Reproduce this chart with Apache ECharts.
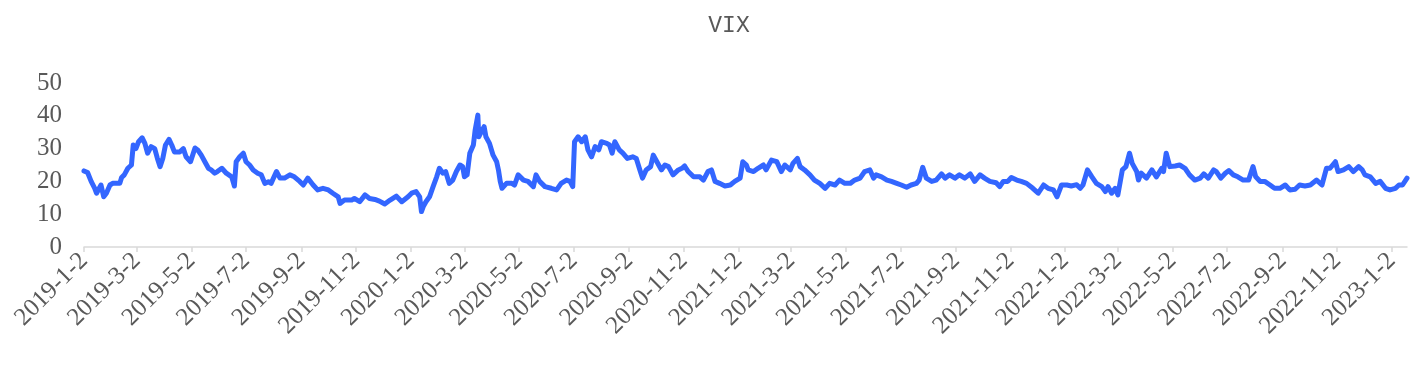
<!DOCTYPE html>
<html>
<head>
<meta charset="utf-8">
<script src="https://cdn.jsdelivr.net/npm/echarts@6/dist/echarts.min.js"></script>
<style>
html,body{margin:0;padding:0;background:#fff;}
#chart{width:1422px;height:378px;}
</style>
</head>
<body>
<div id="chart"></div>
<script>
const titleText = 'VIX';

const dates = [
'2019-01-02','2019-01-06','2019-01-10','2019-01-14','2019-01-16','2019-01-19','2019-01-21','2019-01-24','2019-01-27','2019-01-31',
'2019-02-03','2019-02-11','2019-02-13','2019-02-16','2019-02-20','2019-02-24','2019-02-26','2019-03-01','2019-03-04','2019-03-08',
'2019-03-11','2019-03-14','2019-03-18','2019-03-22','2019-03-25','2019-03-28','2019-03-31','2019-04-03','2019-04-07','2019-04-10',
'2019-04-13','2019-04-19','2019-04-23','2019-04-26','2019-05-01','2019-05-06','2019-05-09','2019-05-13','2019-05-17','2019-05-21',
'2019-05-24','2019-05-28','2019-05-31','2019-06-05','2019-06-10','2019-06-16','2019-06-19','2019-06-21','2019-06-25','2019-06-29',
'2019-07-02','2019-07-06','2019-07-10','2019-07-15','2019-07-19','2019-07-23','2019-07-27','2019-07-30','2019-08-05','2019-08-09',
'2019-08-14','2019-08-20','2019-08-25','2019-08-31','2019-09-04','2019-09-09','2019-09-15','2019-09-20','2019-09-26','2019-10-02',
'2019-10-07','2019-10-13','2019-10-15','2019-10-20','2019-10-28','2019-10-31','2019-11-06','2019-11-12','2019-11-17','2019-11-23',
'2019-11-28','2019-12-04','2019-12-10','2019-12-17','2019-12-23','2019-12-30','2020-01-03','2020-01-08','2020-01-12','2020-01-14',
'2020-01-16','2020-01-19','2020-01-23','2020-01-27','2020-01-31','2020-02-03','2020-02-07','2020-02-10','2020-02-14','2020-02-18',
'2020-02-22','2020-02-26','2020-02-29','2020-03-02','2020-03-05','2020-03-08','2020-03-12','2020-03-14','2020-03-17','2020-03-18',
'2020-03-21','2020-03-24','2020-03-26','2020-03-30','2020-04-03','2020-04-07','2020-04-09','2020-04-11','2020-04-13','2020-04-18',
'2020-04-24','2020-04-27','2020-05-01','2020-05-07','2020-05-12','2020-05-18','2020-05-21','2020-05-25','2020-05-31','2020-06-07',
'2020-06-13','2020-06-18','2020-06-24','2020-06-28','2020-07-01','2020-07-03','2020-07-07','2020-07-11','2020-07-15','2020-07-18',
'2020-07-22','2020-07-26','2020-07-30','2020-08-02','2020-08-08','2020-08-11','2020-08-14','2020-08-17','2020-08-22','2020-08-26',
'2020-08-31','2020-09-06','2020-09-10','2020-09-14','2020-09-17','2020-09-21','2020-09-26','2020-09-29','2020-10-03','2020-10-08',
'2020-10-12','2020-10-16','2020-10-21','2020-10-27','2020-10-31','2020-11-03','2020-11-07','2020-11-13','2020-11-20','2020-11-24',
'2020-11-29','2020-12-03','2020-12-07','2020-12-12','2020-12-18','2020-12-24','2020-12-29','2021-01-04','2021-01-07','2021-01-11',
'2021-01-13','2021-01-19','2021-01-24','2021-01-30','2021-02-02','2021-02-08','2021-02-14','2021-02-19','2021-02-23','2021-03-01',
'2021-03-04','2021-03-09','2021-03-12','2021-03-17','2021-03-23','2021-03-28','2021-04-03','2021-04-09','2021-04-14','2021-04-20',
'2021-04-25','2021-05-01','2021-05-07','2021-05-12','2021-05-18','2021-05-23','2021-05-29','2021-06-02','2021-06-05','2021-06-11',
'2021-06-17','2021-06-22','2021-06-28','2021-07-03','2021-07-09','2021-07-14','2021-07-20','2021-07-23','2021-07-27','2021-07-31',
'2021-08-06','2021-08-11','2021-08-17','2021-08-21','2021-08-26','2021-09-01','2021-09-06','2021-09-12','2021-09-18','2021-09-23',
'2021-09-29','2021-10-04','2021-10-10','2021-10-17','2021-10-21','2021-10-25','2021-10-30','2021-11-03','2021-11-09','2021-11-14',
'2021-11-20','2021-11-27','2021-12-03','2021-12-09','2021-12-14','2021-12-20','2021-12-24','2021-12-29','2022-01-04','2022-01-09',
'2022-01-15','2022-01-19','2022-01-22','2022-01-27','2022-02-01','2022-02-06','2022-02-12','2022-02-16','2022-02-19','2022-02-23',
'2022-02-27','2022-03-02','2022-03-07','2022-03-11','2022-03-15','2022-03-18','2022-03-23','2022-03-25','2022-03-28','2022-04-03',
'2022-04-09','2022-04-14','2022-04-20','2022-04-22','2022-04-25','2022-04-29','2022-05-05','2022-05-10','2022-05-16','2022-05-21',
'2022-05-27','2022-06-02','2022-06-06','2022-06-11','2022-06-17','2022-06-20','2022-06-25','2022-06-30','2022-07-04','2022-07-09',
'2022-07-14','2022-07-20','2022-07-26','2022-07-31','2022-08-03','2022-08-08','2022-08-13','2022-08-19','2022-08-24','2022-08-30',
'2022-09-05','2022-09-10','2022-09-16','2022-09-21','2022-09-27','2022-10-03','2022-10-10','2022-10-16','2022-10-21','2022-10-25',
'2022-10-31','2022-11-03','2022-11-09','2022-11-15','2022-11-20','2022-11-26','2022-11-30','2022-12-03','2022-12-09','2022-12-15',
'2022-12-20','2022-12-26','2022-12-31','2023-01-06','2023-01-10','2023-01-14','2023-01-19'
];

const vixValues = [
23.2,22.7,20.0,17.9,16.4,17.9,18.9,15.3,16.4,18.9,
19.4,19.4,21.2,22.0,24.0,25.0,31.1,30.0,32.1,33.3,
31.6,28.6,30.6,30.0,27.0,24.5,27.0,31.1,32.8,31.1,
29.0,29.0,30.0,27.5,26.0,30.2,29.6,28.0,26.0,24.0,
23.5,22.5,23.0,24.0,22.5,21.4,18.6,26.0,27.5,28.6,
26.0,25.0,23.5,22.5,22.0,19.4,19.9,19.4,23.0,21.0,
21.0,22.0,21.4,20.0,18.9,21.0,18.9,17.4,17.9,17.4,
16.4,15.3,13.3,14.3,14.3,14.8,13.8,15.9,14.8,14.5,
14.0,13.1,14.3,15.5,13.8,15.3,16.4,16.9,15.3,10.8,
12.3,13.8,15.3,18.4,21.4,24.0,22.5,23.0,19.4,20.4,
23.0,25.0,24.5,21.4,22.0,28.6,31.1,35.7,40.2,33.6,
35.2,36.7,33.6,31.6,28.0,26.0,23.5,20.0,17.9,19.4,
19.4,18.9,22.0,20.4,20.0,18.4,22.0,20.0,18.4,17.9,
17.4,19.4,20.4,20.0,18.4,32.1,33.6,32.1,33.6,29.6,
27.5,30.6,29.6,32.1,31.6,31.1,28.6,32.1,29.6,28.6,
27.0,27.5,27.0,23.5,21.0,23.5,24.5,28.0,26.0,23.5,
25.0,24.5,22.0,23.5,24.0,24.7,23.0,21.4,21.4,20.4,
23.0,23.5,20.0,19.4,18.6,18.9,20.0,21.0,26.0,25.0,
23.5,23.0,24.0,25.0,23.5,26.5,26.0,23.0,25.0,23.5,
25.5,27.0,24.5,23.5,22.0,20.4,19.4,17.9,19.4,18.9,
20.4,19.4,19.4,20.4,21.0,23.0,23.5,21.0,22.0,21.4,
20.4,20.0,19.4,18.9,18.2,18.9,19.4,20.4,24.3,21.0,
20.0,20.4,22.3,21.0,22.0,21.0,22.0,21.0,22.3,20.0,
22.0,21.0,20.0,19.6,18.4,20.0,20.0,21.2,20.4,20.0,
19.4,17.9,16.4,18.9,17.9,17.4,15.3,18.9,18.9,18.6,
19.0,17.9,18.9,23.5,21.4,19.4,18.4,16.9,18.4,16.4,
17.9,15.9,23.5,24.5,28.6,25.5,23.0,20.4,22.5,21.0,
23.5,21.4,24.0,23.0,28.6,24.5,24.7,25.0,24.0,22.0,
20.4,21.0,22.3,21.0,23.5,23.0,21.0,22.5,23.3,22.0,
21.4,20.4,20.4,24.5,21.4,20.0,20.0,18.9,17.9,17.9,
18.9,17.4,17.6,18.9,18.6,18.9,20.4,18.9,24.0,24.0,
26.0,23.0,23.5,24.5,23.0,24.5,23.5,22.0,21.4,19.4,
20.0,17.9,17.4,17.9,18.9,18.9,21.0
];

const tickDates = [
'2019-01-02','2019-03-02','2019-05-02','2019-07-02','2019-09-02','2019-11-02',
'2020-01-02','2020-03-02','2020-05-02','2020-07-02','2020-09-02','2020-11-02',
'2021-01-02','2021-03-02','2021-05-02','2021-07-02','2021-09-02','2021-11-02',
'2022-01-02','2022-03-02','2022-05-02','2022-07-02','2022-09-02','2022-11-02',
'2023-01-02'
];

const yTicks = [0, 10, 20, 30, 40, 50];

function toTs(s) {
  const p = s.split('-').map(Number);
  return new Date(p[0], p[1] - 1, p[2]).getTime();
}

const seriesData = dates.map((d, i) => [toTs(d), vixValues[i]]);
const tickTs = tickDates.map(toTs);

const chart = echarts.init(document.getElementById('chart'), null, {renderer: 'canvas'});
const serif = '"Liberation Serif", "Times New Roman", serif';
chart.setOption({
  animation: false,
  backgroundColor: '#ffffff',
  title: {
    text: titleText,
    left: 724,
    top: 9,
    textAlign: 'center',
    textStyle: {
      fontFamily: '"Liberation Mono", monospace',
      fontWeight: 'normal',
      fontSize: 23,
      color: '#595959'
    }
  },
  grid: {left: 84, right: 15, top: 83, bottom: 131, containLabel: false},
  xAxis: {
    type: 'value',
    min: toTs(dates[0]),
    max: toTs(dates[dates.length - 1]),
    axisLine: {show: true, onZero: false, lineStyle: {color: '#d9d9d9', width: 1.5}},
    axisTick: {show: true, length: 5, lineStyle: {color: '#d9d9d9', width: 1.5}, customValues: tickTs},
    splitLine: {show: false},
    axisLabel: {
      customValues: tickTs,
      rotate: 45,
      margin: 10,
      fontFamily: serif,
      fontSize: 25,
      color: '#595959',
      showMinLabel: true,
      showMaxLabel: true,
      hideOverlap: false,
      formatter: function (v) {
        const d = new Date(v);
        return d.getFullYear() + '-' + (d.getMonth() + 1) + '-' + d.getDate();
      }
    }
  },
  yAxis: {
    type: 'value',
    min: yTicks[0],
    max: yTicks[yTicks.length - 1],
    interval: 10,
    axisLine: {show: false},
    axisTick: {show: false},
    splitLine: {show: false},
    axisLabel: {
      margin: 22,
      fontFamily: serif,
      fontSize: 25,
      color: '#595959'
    }
  },
  series: [{
    type: 'line',
    name: titleText,
    data: seriesData,
    showSymbol: false,
    symbol: 'none',
    smooth: false,
    lineStyle: {color: '#3366ff', width: 5, join: 'round', cap: 'round'},
    itemStyle: {color: '#3366ff'}
  }]
});
</script>
</body>
</html>
